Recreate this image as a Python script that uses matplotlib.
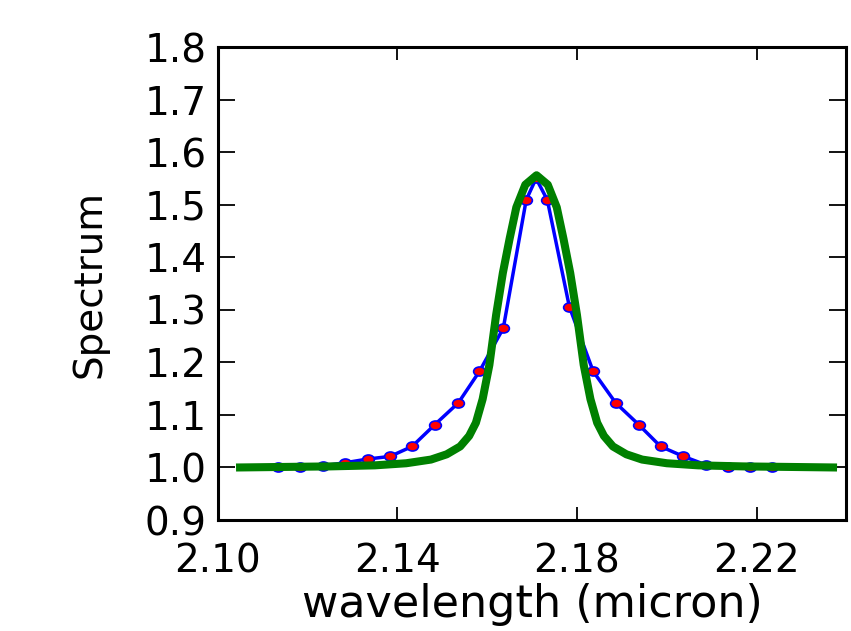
import matplotlib
matplotlib.use("Agg")
import matplotlib.pyplot as plt
from matplotlib.markers import MarkerStyle
from matplotlib.transforms import Affine2D

# measured spectrum (blue line, red markers)
wl_data = [2.1134, 2.1183, 2.1234, 2.1284, 2.1334, 2.1384, 2.1433, 2.1483,
           2.1536, 2.1583, 2.1636, 2.1687, 2.1709, 2.1734, 2.1783, 2.1836,
           2.1886, 2.1938, 2.1986, 2.2037, 2.2087, 2.2136, 2.2185, 2.2235]
spec_data = [1.000, 1.000, 1.003, 1.009, 1.016, 1.021, 1.040, 1.081,
             1.123, 1.183, 1.265, 1.509, 1.550, 1.509, 1.306, 1.183,
             1.123, 1.081, 1.040, 1.021, 1.005, 1.000, 1.000, 1.000]

# model curve (green)
wl_model = [2.1050, 2.1150, 2.1250, 2.1350, 2.1420, 2.1475, 2.1510, 2.1540,
            2.1560, 2.1575, 2.1590, 2.1605, 2.1620, 2.1635, 2.1650, 2.1665,
            2.1685, 2.1710, 2.1735, 2.1755, 2.1770, 2.1785, 2.1800, 2.1815,
            2.1830, 2.1845, 2.1860, 2.1880, 2.1910, 2.1945, 2.2000, 2.2070,
            2.2170, 2.2270, 2.2370]
spec_model = [1.000, 1.001, 1.002, 1.004, 1.008, 1.015, 1.025, 1.040,
              1.060, 1.085, 1.130, 1.195, 1.290, 1.370, 1.435, 1.495,
              1.538, 1.556, 1.538, 1.495, 1.435, 1.370, 1.290, 1.195,
              1.130, 1.085, 1.060, 1.040, 1.025, 1.015, 1.008, 1.004,
              1.002, 1.001, 1.000]

xticks = [2.10, 2.14, 2.18, 2.22]
xticklabels = ["2.10", "2.14", "2.18", "2.22"]
yticks = [0.9, 1.0, 1.1, 1.2, 1.3, 1.4, 1.5, 1.6, 1.7, 1.8]
yticklabels = ["0.9", "1.0", "1.1", "1.2", "1.3", "1.4", "1.5", "1.6", "1.7", "1.8"]

plt.rcParams['font.family'] = ['DejaVu Sans']
fig = plt.figure(figsize=(8.51, 6.31), dpi=100)
ax = fig.add_axes([0.2557, 0.1759, 0.7390, 0.7496])

ell = MarkerStyle('o', transform=Affine2D().scale(1.3, 1.0))
ax.plot(wl_data, spec_data, '-', color='blue', lw=2.5,
        marker=ell, markersize=6.5, markerfacecolor='red',
        markeredgecolor='blue', markeredgewidth=1.2)
ax.plot(wl_model, spec_model, '-', color='green', lw=5.8)

ax.set_xlim(2.10, 2.24)
ax.set_ylim(0.9, 1.8)
ax.set_xticks(xticks)
ax.set_xticklabels(xticklabels)
ax.set_yticks(yticks)
ax.set_yticklabels(yticklabels)

ax.tick_params(direction='in', width=1.3, top=True, right=True,
               labelsize=28, colors='black')
ax.tick_params(axis='x', length=9.5, pad=16)
ax.tick_params(axis='y', length=12.5, pad=8)
for s in ax.spines.values():
    s.set_linewidth(2.2)
    s.set_color('black')

ax.set_xlabel('wavelength (micron)', fontsize=32, labelpad=2)
ax.set_ylabel('Spectrum', fontsize=28, labelpad=26)

fig.savefig('out.png', dpi=100)
